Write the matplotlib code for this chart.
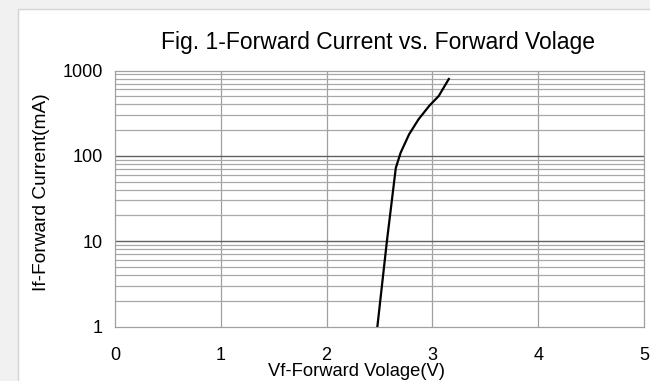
import numpy as np
import matplotlib
matplotlib.use("Agg")
import matplotlib.pyplot as plt
from matplotlib.patches import Rectangle

plt.rcParams['font.family'] = ['Liberation Sans', 'DejaVu Sans']

# Curve (V, mA)
vf = [2.48, 2.57, 2.654, 2.70, 2.78, 2.87, 2.97, 3.06, 3.155]
i_f = [1, 10, 72, 109, 179, 269, 385, 503, 795]

x_ticks = [0, 1, 2, 3, 4, 5]
y_ticks = [1, 10, 100, 1000]
y_tick_labels = ["1", "10", "100", "1000"]

fig = plt.figure(figsize=(6.5, 3.81), dpi=100)
fig.patch.set_facecolor('#f1f1f1')

# white panel with thin border on left/top (background axes)
W, H = 650, 381
bg = fig.add_axes([0, 0, 1, 1], zorder=-10)
bg.set_xlim(0, W)
bg.set_ylim(H, 0)
bg.axis('off')
bg.add_patch(Rectangle((18, 9), W, H, facecolor='white', edgecolor='none'))
bg.plot([18, 18, W + 5], [H + 5, 9, 9], color='#d4d4d4', lw=1)

ax = fig.add_axes([115 / W, 1 - 326.5 / H, (644 - 115) / W, (326.5 - 70.5) / H])
ax.set_facecolor('white')
ax.set_yscale('log')
ax.set_xlim(0, 5)
ax.set_ylim(1, 1000)

# grid
for v in x_ticks[1:-1]:
    ax.axvline(v, color='#a0a0a0', lw=0.9, zorder=1)
for dec in [1, 10, 100]:
    for m in range(2, 10):
        ax.axhline(dec * m, color='#a8a8a8', lw=0.9, zorder=1)
for dec in [10, 100]:
    ax.axhline(dec, color='#606060', lw=1.0, zorder=1)

ax.plot(vf, i_f, color='black', lw=1.6, zorder=3)

ax.set_xticks(x_ticks)
ax.set_xticklabels([str(t) for t in x_ticks])
ax.set_yticks(y_ticks)
ax.set_yticklabels(y_tick_labels)
ax.minorticks_off()
ax.tick_params(length=0, labelsize=13)
ax.tick_params(axis='y', pad=9)
ax.tick_params(axis='x', pad=15)
for s in ax.spines.values():
    s.set_color('#a0a0a0')
    s.set_linewidth(0.9)

fig.text(357 / W, 1 - 372 / H, "Vf-Forward Volage(V)", ha='center', va='center', fontsize=13.2)
fig.text(42 / W, 1 - 192 / H, "If-Forward Current(mA)", ha='center', va='center',
         rotation=90, fontsize=13.8)
fig.text(378 / W, 1 - 43 / H, "Fig. 1-Forward Current vs. Forward Volage",
         ha='center', va='center', fontsize=16.5)

fig.savefig("out.png", dpi=100, facecolor=fig.get_facecolor())
